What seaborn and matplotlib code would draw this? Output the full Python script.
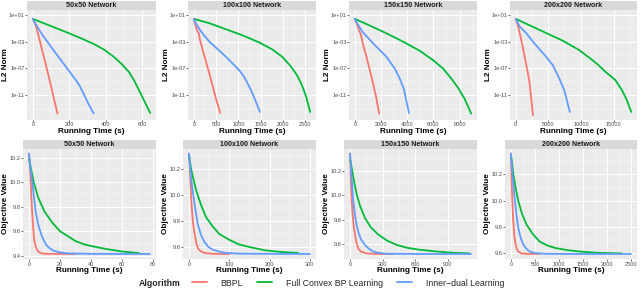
"""
Convergence of BBPL vs full convex BP learning vs inner-dual learning
Top row: L2 norm (log scale), bottom row: objective value, per network size
"""

import numpy as np
import pandas as pd
import matplotlib
matplotlib.use("Agg")
import matplotlib.pyplot as plt
import seaborn as sns
from matplotlib.ticker import MultipleLocator, FixedLocator, FixedFormatter, NullFormatter
from matplotlib.lines import Line2D

sns.set_theme(style="darkgrid")
plt.rcParams['font.family'] = ['Liberation Sans', 'DejaVu Sans']

ALGOS = ['BBPL', 'Full Convex BP Learning', 'Inner\u2212dual Learning']
COLORS = ['#F8766D', '#00BA38', '#619CFF']
NETWORKS = ['50x50 Network', '100x100 Network', '150x150 Network', '200x200 Network']

# ---- L2 norm (stored as log10 of the norm) ----
l2_50_bbpl_t = [0, 9, 18, 28, 37, 55, 74, 92, 111, 135]
l2_50_bbpl_v = [0.4, -0.15, -0.75, -1.75, -2.75, -4.75, -6.75, -8.75, -11.0, -13.75]
l2_50_full_t = [0, 92, 185, 277, 338, 388, 443, 489, 526, 554, 582, 609, 643]
l2_50_full_v = [0.4, -0.6, -1.6, -2.65, -3.4, -4.15, -5.25, -6.4, -7.5, -8.75, -10.25, -11.75, -13.65]
l2_50_dual_t = [0, 18, 55, 111, 185, 240, 259, 280, 305, 333]
l2_50_dual_v = [0.4, -0.5, -2.1, -4.2, -6.9, -8.9, -9.7, -10.9, -12.3, -13.7]

l2_100_bbpl_t = [0, 37, 74, 111, 141, 200, 274, 349, 423, 497, 593]
l2_100_bbpl_v = [0.4, -0.5, -1.35, -1.75, -2.85, -4.25, -6.0, -7.75, -9.65, -11.5, -13.65]
l2_100_full_t = [0, 349, 720, 1090, 1461, 1758, 1981, 2166, 2315, 2426, 2522, 2611]
l2_100_full_v = [0.4, -0.25, -1.15, -2.05, -3.1, -4.15, -5.25, -6.6, -8.0, -9.5, -11.25, -13.5]
l2_100_dual_t = [0, 52, 163, 349, 720, 1016, 1128, 1239, 1350, 1484]
l2_100_dual_v = [0.4, -0.35, -1.5, -3.0, -5.25, -7.25, -8.25, -9.65, -11.25, -13.5]

l2_150_bbpl_t = [0, 178, 330, 432, 635, 889, 1143, 1397, 1651, 1854]
l2_150_bbpl_v = [0.4, -0.5, -1.35, -1.75, -3.5, -5.25, -7.25, -9.25, -11.5, -13.75]
l2_150_full_t = [0, 1143, 2412, 3682, 4952, 5968, 6730, 7364, 7872, 8380, 8888]
l2_150_full_v = [0.4, -0.6, -1.75, -3.0, -4.35, -5.75, -7.0, -8.5, -9.85, -11.5, -13.75]
l2_150_dual_t = [0, 254, 635, 1397, 2412, 3047, 3428, 3733, 4139]
l2_150_dual_v = [0.4, -0.5, -1.65, -3.25, -5.25, -7.0, -8.5, -10.0, -13.65]

l2_200_bbpl_t = [0, 354, 606, 1010, 1364, 1768, 2121, 2374, 2626]
l2_200_bbpl_v = [0.4, -0.75, -1.75, -3.5, -5.25, -7.25, -9.25, -11.5, -14.0]
l2_200_full_t = [0, 3636, 7172, 9697, 11717, 12475, 13737, 15253, 16263, 17020, 17677]
l2_200_full_v = [0.4, -1.25, -2.85, -4.25, -5.75, -6.35, -7.5, -8.75, -10.25, -11.75, -13.5]
l2_200_dual_t = [0, 606, 1616, 2626, 4646, 5657, 6667, 7424, 8283]
l2_200_dual_v = [0.4, -0.75, -1.75, -3.0, -5.25, -6.5, -8.5, -10.25, -13.5]

# ---- objective value ----
obj_50_bbpl_t = [0, 0.5, 1.1, 1.6, 2.2, 2.8, 3.3, 4.2, 5.5, 7, 9, 12, 30]
obj_50_bbpl_v = [10.233, 10.13, 9.99, 9.85, 9.72, 9.61, 9.53, 9.48, 9.44, 9.425, 9.418, 9.416, 9.415]
obj_50_full_t = [0, 3, 6, 10, 15, 20, 25, 30, 35, 40, 50, 60, 71]
obj_50_full_v = [10.19, 10.0, 9.87, 9.76, 9.67, 9.60, 9.56, 9.52, 9.495, 9.48, 9.455, 9.435, 9.422]
obj_50_dual_t = [0, 1, 2.2, 3.3, 4.4, 6, 7.7, 9, 11, 13, 16, 20, 25, 40, 78]
obj_50_dual_v = [10.233, 10.10, 9.99, 9.86, 9.75, 9.65, 9.58, 9.54, 9.49, 9.465, 9.44, 9.428, 9.42, 9.416, 9.415]

obj_100_bbpl_t = [0, 2, 4, 5.7, 8, 10, 14, 18, 22, 28, 38, 60, 100]
obj_100_bbpl_v = [10.316, 10.2, 10.06, 9.955, 9.85, 9.78, 9.70, 9.63, 9.59, 9.57, 9.555, 9.548, 9.547]
obj_100_full_t = [0, 5, 10, 18, 30, 42, 58, 75, 100, 124, 150, 189, 230, 271]
obj_100_full_v = [10.30, 10.2, 10.13, 10.03, 9.92, 9.83, 9.76, 9.70, 9.655, 9.62, 9.60, 9.575, 9.562, 9.555]
obj_100_dual_t = [0, 3, 6, 10, 15, 22, 30, 38, 48, 59, 75, 91, 130, 300]
obj_100_dual_v = [10.316, 10.2, 10.1, 10.01, 9.9, 9.77, 9.69, 9.64, 9.60, 9.58, 9.565, 9.555, 9.549, 9.547]

obj_150_bbpl_t = [0, 5, 10, 15, 25, 35, 46, 60, 76, 100, 152, 250, 400]
obj_150_bbpl_v = [10.344, 10.2, 10.06, 9.955, 9.83, 9.74, 9.68, 9.61, 9.565, 9.54, 9.525, 9.52, 9.52]
obj_150_full_t = [0, 6, 20, 40, 61, 90, 137, 190, 259, 340, 427, 530, 640, 800, 950, 1100]
obj_150_full_v = [10.30, 10.275, 10.2, 10.1, 10.01, 9.92, 9.815, 9.74, 9.68, 9.63, 9.595, 9.57, 9.555, 9.54, 9.53, 9.525]
obj_150_dual_t = [0, 10, 20, 30, 45, 60, 76, 100, 137, 170, 213, 270, 335, 600, 1113]
obj_150_dual_v = [10.344, 10.2, 10.07, 9.955, 9.84, 9.76, 9.70, 9.64, 9.595, 9.565, 9.54, 9.528, 9.522, 9.52, 9.52]

obj_200_bbpl_t = [0, 10, 27, 45, 68, 90, 116, 150, 219, 350, 600]
obj_200_bbpl_v = [10.359, 10.2, 10.0, 9.86, 9.74, 9.68, 9.64, 9.615, 9.60, 9.597, 9.597]
obj_200_full_t = [0, 14, 50, 100, 151, 230, 322, 450, 596, 760, 938, 1180, 1418, 1800, 2308]
obj_200_full_v = [10.33, 10.31, 10.2, 10.09, 10.0, 9.9, 9.82, 9.75, 9.69, 9.66, 9.64, 9.625, 9.615, 9.605, 9.60]
obj_200_dual_t = [0, 30, 82, 115, 151, 200, 253, 320, 390, 500, 733, 1500, 2500]
obj_200_dual_v = [10.359, 10.2, 10.0, 9.89, 9.795, 9.72, 9.67, 9.635, 9.615, 9.603, 9.597, 9.596, 9.596]

L2_SERIES = [
    [(l2_50_bbpl_t, l2_50_bbpl_v), (l2_50_full_t, l2_50_full_v), (l2_50_dual_t, l2_50_dual_v)],
    [(l2_100_bbpl_t, l2_100_bbpl_v), (l2_100_full_t, l2_100_full_v), (l2_100_dual_t, l2_100_dual_v)],
    [(l2_150_bbpl_t, l2_150_bbpl_v), (l2_150_full_t, l2_150_full_v), (l2_150_dual_t, l2_150_dual_v)],
    [(l2_200_bbpl_t, l2_200_bbpl_v), (l2_200_full_t, l2_200_full_v), (l2_200_dual_t, l2_200_dual_v)],
]
OBJ_SERIES = [
    [(obj_50_bbpl_t, obj_50_bbpl_v), (obj_50_full_t, obj_50_full_v), (obj_50_dual_t, obj_50_dual_v)],
    [(obj_100_bbpl_t, obj_100_bbpl_v), (obj_100_full_t, obj_100_full_v), (obj_100_dual_t, obj_100_dual_v)],
    [(obj_150_bbpl_t, obj_150_bbpl_v), (obj_150_full_t, obj_150_full_v), (obj_150_dual_t, obj_150_dual_v)],
    [(obj_200_bbpl_t, obj_200_bbpl_v), (obj_200_full_t, obj_200_full_v), (obj_200_dual_t, obj_200_dual_v)],
]

L2_XSTEP = [200, 500, 2000, 5000]
OBJ_XSTEP = [20, 100, 300, 500]
OBJ_YTICKS = [[9.4, 9.6, 9.8, 10.0, 10.2], [9.6, 9.8, 10.0, 10.2],
              [9.6, 9.8, 10.0, 10.2], [9.6, 9.8, 10.0, 10.2]]

# panel boxes in pixels: (left, right) and (top, bottom)
W, H = 640, 289
TOP_COLS = [(27, 156), (188, 316), (349, 477), (510, 637)]
BOT_COLS = [(23, 156), (183, 316), (344, 477), (505, 637)]
TOP_ROW = (9.5, 120)
BOT_ROW = (148.5, 259)
STRIP_H = 9
YLAB_OFF = [-18, -14]   # right edge of the y title, px left of the panel


def to_frame(series, log=False):
    rows = []
    for algo, (t, v) in zip(ALGOS, series):
        vals = 10.0 ** np.array(v) if log else np.array(v)
        rows.append(pd.DataFrame({'time': t, 'value': vals, 'Algorithm': algo}))
    return pd.concat(rows, ignore_index=True)


def add_panel(fig, cols, row, title):
    l, r = cols
    t, b = row
    ax = fig.add_axes([l / W, 1 - b / H, (r - l) / W, (b - t) / H])
    strip = fig.add_axes([l / W, 1 - t / H, (r - l) / W, STRIP_H / H])
    strip.set_facecolor('#D9D9D9')
    strip.set_xticks([])
    strip.set_yticks([])
    for s in strip.spines.values():
        s.set_visible(False)
    strip.text(0.5, 0.45, title, ha='center', va='center', fontsize=5.1,
               fontweight='bold', color='#1A1A1A', transform=strip.transAxes)
    return ax


def style_axes(ax, ylabel, width_px, yoff):
    ax.set_facecolor('#EBEBEB')
    for s in ax.spines.values():
        s.set_visible(False)
    ax.grid(which='major', color='white', linewidth=0.7)
    ax.grid(which='minor', color='white', linewidth=0.35)
    ax.tick_params(which='major', length=1.3, width=0.5, color='#333333',
                   labelsize=4.1, labelcolor='#4D4D4D', pad=0.5, bottom=True, left=True)
    ax.tick_params(which='minor', length=0)
    ax.set_xlabel('Running Time (s)', fontsize=5.9, fontweight='bold', labelpad=0.6, color='black')
    ax.set_ylabel(ylabel, fontsize=5.9, fontweight='bold', color='black')
    ax.yaxis.set_label_coords(yoff / width_px, 0.5)


def pad_limits(lo, hi, frac=0.05):
    d = (hi - lo) * frac
    return lo - d, hi + d


fig = plt.figure(figsize=(W / 100, H / 100), dpi=100)
fig.patch.set_facecolor('white')

for i in range(4):
    # top: L2 norm
    ax = add_panel(fig, TOP_COLS[i], TOP_ROW, NETWORKS[i])
    df = to_frame(L2_SERIES[i], log=True)
    sns.lineplot(data=df, x='time', y='value', hue='Algorithm', hue_order=ALGOS,
                 palette=COLORS, estimator=None, sort=False, linewidth=1.3,
                 legend=False, ax=ax)
    ax.set_yscale('log')
    ax.set_ylim(10 ** -14.7, 10 ** 1.8)
    ax.yaxis.set_major_locator(FixedLocator([1e1, 1e-3, 1e-7, 1e-11]))
    ax.yaxis.set_major_formatter(FixedFormatter(['1e+01', '1e-03', '1e-07', '1e-11']))
    ax.yaxis.set_minor_locator(FixedLocator([1e-1, 1e-5, 1e-9, 1e-13]))
    ax.yaxis.set_minor_formatter(NullFormatter())
    ax.set_xlim(*pad_limits(0, df['time'].max()))
    ax.xaxis.set_major_locator(MultipleLocator(L2_XSTEP[i]))
    ax.xaxis.set_minor_locator(MultipleLocator(L2_XSTEP[i] / 2))
    style_axes(ax, 'L2 Norm', TOP_COLS[i][1] - TOP_COLS[i][0], YLAB_OFF[0])

    # bottom: objective value
    ax = add_panel(fig, BOT_COLS[i], BOT_ROW, NETWORKS[i])
    df = to_frame(OBJ_SERIES[i])
    sns.lineplot(data=df, x='time', y='value', hue='Algorithm', hue_order=ALGOS,
                 palette=COLORS, estimator=None, sort=False, linewidth=1.3,
                 legend=False, ax=ax)
    ax.set_xlim(*pad_limits(0, df['time'].max()))
    ax.set_ylim(*pad_limits(df['value'].min(), df['value'].max()))
    ax.yaxis.set_major_locator(FixedLocator(OBJ_YTICKS[i]))
    ax.yaxis.set_major_formatter(FixedFormatter([f'{v:.1f}' for v in OBJ_YTICKS[i]]))
    ax.yaxis.set_minor_locator(MultipleLocator(0.1))
    ax.xaxis.set_major_locator(MultipleLocator(OBJ_XSTEP[i]))
    ax.xaxis.set_minor_locator(MultipleLocator(OBJ_XSTEP[i] / 2))
    style_axes(ax, 'Objective Value', BOT_COLS[i][1] - BOT_COLS[i][0], YLAB_OFF[1])

# legend along the bottom
handles = [Line2D([0], [0], color=c, linewidth=1.3) for c in COLORS]
fig.text(181 / W, 1 - 283.5 / H, 'Algorithm', ha='right', va='center',
         fontsize=6.3, fontweight='bold')
fig.legend(handles, ALGOS, loc='center left', bbox_to_anchor=(192 / W, 1 - 283 / H),
           ncol=3, frameon=False, fontsize=6.3, handlelength=1.7, handletextpad=1.55,
           columnspacing=1.65, borderaxespad=0, borderpad=0)

fig.savefig('out.png', dpi=100, facecolor='white')
